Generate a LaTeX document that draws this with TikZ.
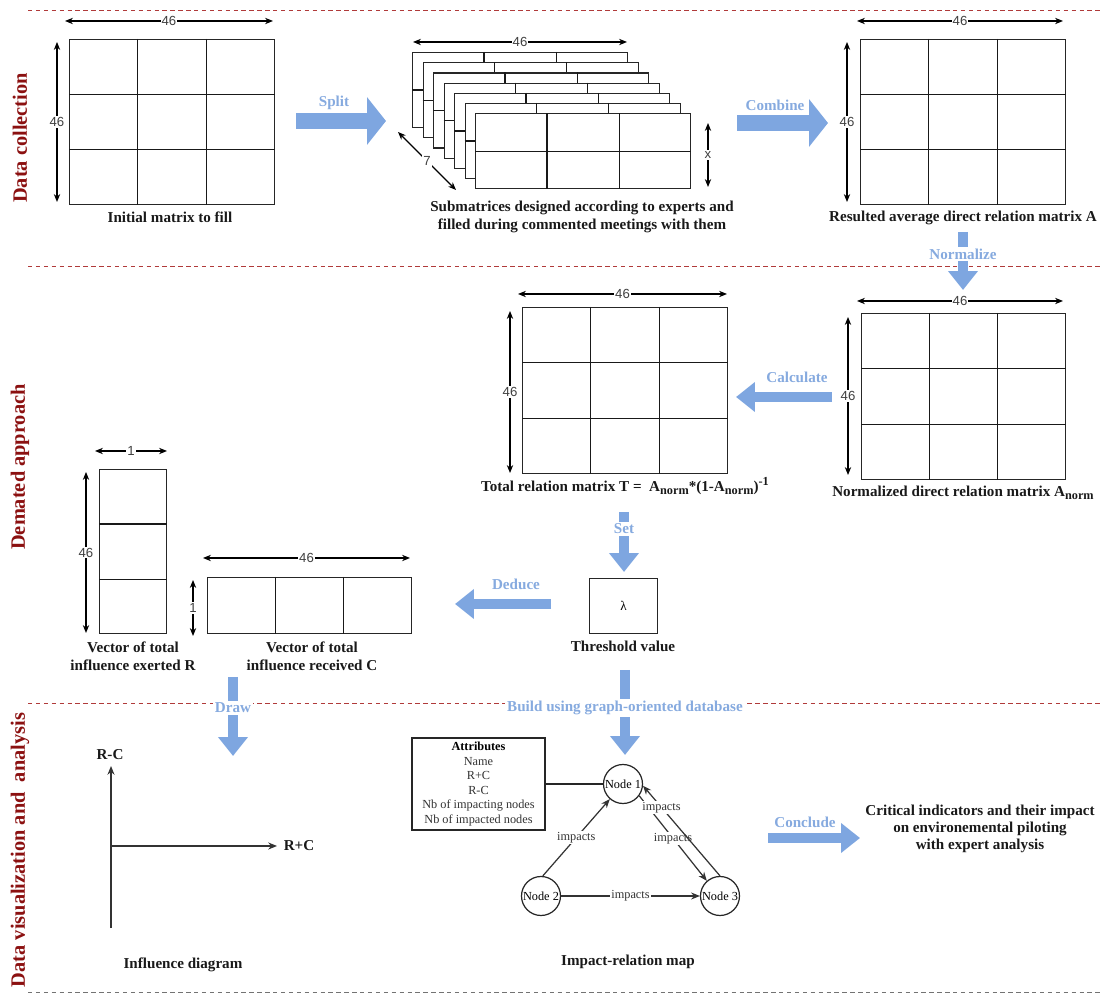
\documentclass[tikz,border=0pt]{standalone}
\usepackage{fontspec}
\setmainfont{Liberation Serif}
\newfontfamily\dimfont{Liberation Sans}
\usetikzlibrary{arrows.meta,calc}
\definecolor{flowblue}{HTML}{7EA6E0}
\definecolor{labelblue}{HTML}{86AADF}
\definecolor{phasered}{HTML}{8B1010}
\definecolor{rulered}{HTML}{B03A3A}
\newcommand{\pxu}{0.02cm}
\newcommand{\subtxt}[1]{\raisebox{-0.45ex}{\fontsize{7}{8}\selectfont #1}}
\newcommand{\suptxt}[1]{\raisebox{0.9ex}{\fontsize{7}{8}\selectfont #1}}
\tikzset{
  matbox/.style={draw=black!85, fill=white, line width=0.7pt, inner sep=0pt, anchor=north west},
  cellline/.style={line width=0.7pt, black!90},
  dimarrow/.style={line width=0.65pt, {Stealth[length=4.5pt,width=3.6pt]}-{Stealth[length=4.5pt,width=3.6pt]}},
  dimlabel/.style={fill=white, inner sep=0.6pt, font=\dimfont\fontsize{7.5}{8}\selectfont, text=black!75},
  caption/.style={font=\bfseries\fontsize{8.6}{10.2}\selectfont, align=center, text=black!90},
  phase/.style={font=\bfseries\fontsize{11.6}{13}\selectfont, text=phasered, rotate=90},
  flowarrow/.style={draw=flowblue, line width=5.7pt, -{Triangle[length=10.8pt,width=16.4pt]}},
  bigflow/.style={draw=flowblue, line width=9pt, -{Triangle[length=10.8pt,width=26.6pt]}},
  flowlabel/.style={font=\bfseries\fontsize{8.6}{10}\selectfont, text=labelblue, inner sep=1pt},
  separator/.style={rulered, dash pattern=on 2.5pt off 2pt, line width=0.5pt},
  graphnode/.style={circle, draw=black!85, line width=0.7pt, minimum size=39*\pxu, inner sep=0pt, font=\fontsize{7}{8}\selectfont},
  impact/.style={draw=black!80, line width=0.7pt, -{Stealth[length=5pt,width=4pt]}},
  impactlabel/.style={fill=white, inner sep=0.5pt, font=\fontsize{7}{8}\selectfont, text=black!80}
}
% matrix drawn as a node with inner cell lines: name, x, y, width, height, columns, rows
\newcommand{\cellmatrix}[7]{%
  \node[matbox, minimum width=#4*\pxu, minimum height=#5*\pxu] (#1) at (#2,#3) {};
  \pgfmathtruncatemacro{\lastcol}{#6-1}\pgfmathtruncatemacro{\lastrow}{#7-1}%
  \ifnum\lastcol>0 \foreach \ci in {1,...,\lastcol}{\draw[cellline] ($(#1.north west)!\ci/#6!(#1.north east)$) -- ($(#1.south west)!\ci/#6!(#1.south east)$);}\fi
  \ifnum\lastrow>0 \foreach \ri in {1,...,\lastrow}{\draw[cellline] ($(#1.north west)!\ri/#7!(#1.south west)$) -- ($(#1.north east)!\ri/#7!(#1.south east)$);}\fi
}

\begin{document}
\begin{tikzpicture}[x=0.02cm, y=-0.02cm]
\useasboundingbox (0,0) rectangle (1103,996);
% phase separators and titles
\draw[separator] (28,10) -- (1100,10);
\draw[separator] (28,266) -- (1100,266);
\draw[separator] (28,703) -- (1100,703);
\draw[separator, black!55] (28,992) -- (1100,992);
\node[phase] (phase1) at (20,138) {Data collection};
\node[phase] (phase2) at (20,467) {Demated approach};
\node[phase] (phase3) at (20,850) {Data visualization and \ analysis};

% data collection
\cellmatrix{init}{69}{39}{205}{165}{3}{3}
\draw[dimarrow] (65,21) -- node[dimlabel] {46} (273,21);
\draw[dimarrow] (57,42) -- node[dimlabel] {46} (57,202);
\node[caption] (initcap) at (170,217) {Initial matrix to fill};

\foreach \k in {0,...,6} {\cellmatrix{sub\k}{412+10.5*\k}{52+10.2*\k}{215}{75}{3}{2}}
\draw[dimarrow] (413,42) -- node[dimlabel] {46} (627,42);
\draw[dimarrow] (398,132) -- node[dimlabel] {7} (456,190);
\draw[dimarrow] (708,123) -- node[dimlabel] {x} (708,187);
\node[caption] (subcap) at (582,217) {Submatrices designed according to experts and\\filled during commented meetings with them};

\cellmatrix{avgA}{860}{39}{205}{165}{3}{3}
\draw[dimarrow] (857,21) -- node[dimlabel] {46} (1063,21);
\draw[dimarrow] (847,42) -- node[dimlabel] {46} (847,202);
\node[caption] (avgcap) at (963,218) {Resulted average direct relation matrix A};

\draw[bigflow] (296,121) -- (386,121);
\node[flowlabel] (split) at (334,103) {Split};
\draw[bigflow] (737,123) -- (828,123);
\node[flowlabel] (combine) at (775,105) {Combine};
\draw[flowarrow] (963,232) -- (963,290);
\node[flowlabel, fill=white] (normalize) at (963,254) {Normalize};

% demated approach
\cellmatrix{normA}{861}{313}{204}{166}{3}{3}
\draw[dimarrow] (857,301) -- node[dimlabel] {46} (1063,301);
\draw[dimarrow] (848,317) -- node[dimlabel] {46} (848,475);
\node[caption] (normcap) at (963,493) {Normalized direct relation matrix A\subtxt{norm}};

\cellmatrix{totalT}{522}{307}{205}{166}{3}{3}
\draw[dimarrow] (518,294) -- node[dimlabel] {46} (727,294);
\draw[dimarrow] (510,311) -- node[dimlabel] {46} (510,473);
\node[caption] (totalcap) at (625,486) {Total relation matrix T = \ A\subtxt{norm}*(1-A\subtxt{norm})\suptxt{-1}};

\draw[flowarrow] (832,397) -- (736,397);
\node[flowlabel] (calculate) at (797,377) {Calculate};

\cellmatrix{thresh}{589}{578}{68}{55}{1}{1}
\node[font=\fontsize{7.5}{8}\selectfont] (lambda) at (thresh.center) {λ};
\node[caption] (threshcap) at (623,646) {Threshold value};
\draw[flowarrow] (624,512) -- (624,572);
\node[flowlabel, fill=white] (set) at (624,529) {Set};
\draw[flowarrow] (551,604) -- (455,604);
\node[flowlabel] (deduce) at (516,584) {Deduce};

\cellmatrix{vecR}{99}{469}{67}{164}{1}{3}
\draw[dimarrow] (95,451) -- node[dimlabel] {1} (167,451);
\draw[dimarrow] (86,472) -- node[dimlabel] {46} (86,633);
\node[caption] (vecRcap) at (133,656) {Vector of total\\influence exerted R};

\cellmatrix{vecC}{207}{577}{204}{56}{3}{1}
\draw[dimarrow] (203,558) -- node[dimlabel] {46} (410,558);
\draw[dimarrow] (193,580) -- node[dimlabel] {1} (193,636);
\node[caption] (vecCcap) at (312,656) {Vector of total\\influence received C};

% data visualization and analysis
\draw[flowarrow] (233,677) -- (233,756);
\node[flowlabel, fill=white] (draw) at (233,708) {Draw};
\draw[flowarrow] (625,670) -- (625,755);
\node[flowlabel, fill=white] (build) at (625,708) {Build using graph-oriented database};

\coordinate (origin) at (111,846);
\coordinate (rcend) at (111,766);
\coordinate (rpcend) at (277,846);
\draw[black!80, line width=0.7pt, -{Stealth[length=5pt,width=4pt]}] (111,928) -- (rcend);
\draw[black!80, line width=0.7pt, -{Stealth[length=5pt,width=4pt]}] (origin) -- (rpcend);
\node[caption] (rminus) at (110,755) {R-C};
\node[caption] (rplus) at (299,846) {R+C};
\node[caption] (inflcap) at (183,965) {Influence diagram};

\node[draw=black!85, line width=0.7pt, align=center, minimum width=133*\pxu, minimum height=92*\pxu, inner sep=1pt, font=\fontsize{7}{8.3}\selectfont, text=black!80] (attr) at (478.5,784) {\textbf{\color{black}Attributes}\\Name\\R+C\\R-C\\Nb of impacting nodes\\Nb of impacted nodes};
\node[graphnode] (n1) at (623,784) {Node 1};
\node[graphnode] (n2) at (541,896) {Node 2};
\node[graphnode] (n3) at (720,896) {Node 3};
\draw[black!85, line width=0.7pt] (attr) -- (n1);
\draw[impact] (n2.85) -- node[impactlabel] {impacts} (n1.229);
\draw[impact] (n2) -- node[impactlabel] {impacts} (n3);
\draw[impact] (n1.-36) -- node[impactlabel] {impacts} (n3.131);
\draw[impact] (n3.90) -- node[impactlabel, pos=0.76] {impacts} (n1.-5);
\node[caption] (mapcap) at (628,962) {Impact-relation map};

\draw[flowarrow] (768,838) -- (860,838);
\node[flowlabel] (conclude) at (805,822) {Conclude};
\node[caption, font=\bfseries\fontsize{8.6}{9.7}\selectfont] (result) at (980,829) {Critical indicators and their impact\\on environemental piloting\\with expert analysis};
\end{tikzpicture}
\end{document}
